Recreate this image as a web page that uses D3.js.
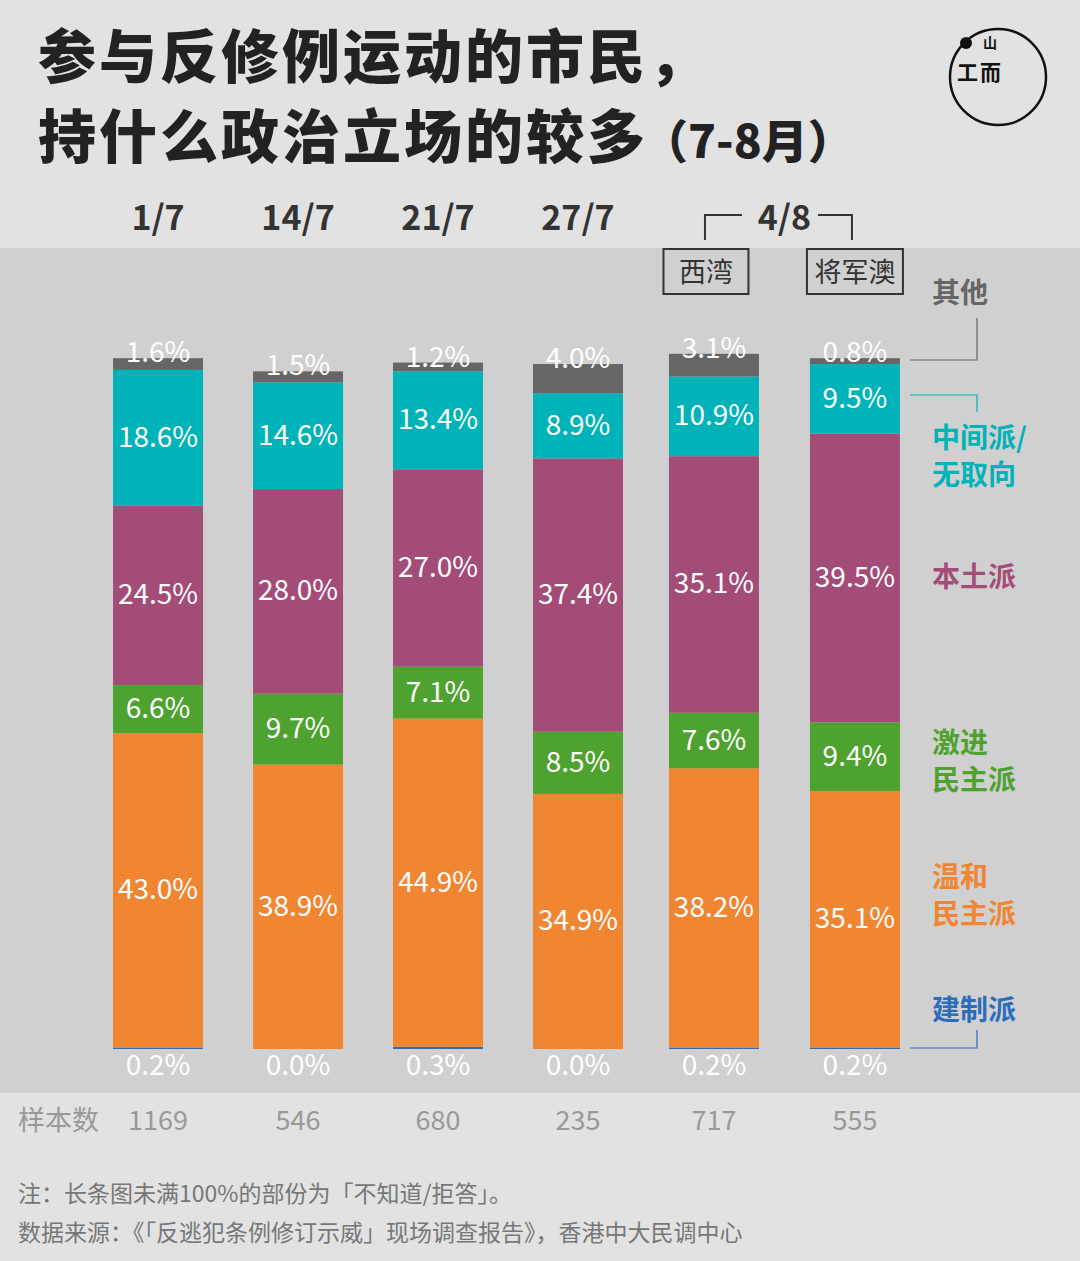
<!DOCTYPE html>
<html><head><meta charset="utf-8">
<script src="https://cdn.jsdelivr.net/npm/d3@7"></script>
<style>body{margin:0;background:#e2e2e2}svg{display:block;font-family:"Noto Sans CJK SC","Noto Sans",sans-serif}</style>
</head><body><svg id="chart"></svg>
<script>
const dates = ["1/7", "14/7", "21/7", "27/7", "4/8a", "4/8b"];
const samples = [1169, 546, 680, 235, 717, 555];
const seriesNames = ["建制派", "温和民主派", "激进民主派", "本土派", "中间派/无取向", "其他"];
const establishment = [0.2, 0.0, 0.3, 0.0, 0.2, 0.2];
const moderate = [43.0, 38.9, 44.9, 34.9, 38.2, 35.1];
const radical = [6.6, 9.7, 7.1, 8.5, 7.6, 9.4];
const localist = [24.5, 28.0, 27.0, 37.4, 35.1, 39.5];
const centrist = [18.6, 14.6, 13.4, 8.9, 10.9, 9.5];
const other = [1.6, 1.5, 1.2, 4.0, 3.1, 0.8];
const colors = ["#2a6ebb", "#f08532", "#4ea22f", "#a44c78", "#00b3b8", "#666666"];

const W = 1080, H = 1261;
const svg = d3.select("#chart").attr("width", W).attr("height", H);
svg.append("rect").attr("width", W).attr("height", H).attr("fill", "#e2e2e2");
svg.append("rect").attr("y", 248).attr("width", W).attr("height", 845).attr("fill", "#d0d0d0");

// title
svg.append("text").attr("x", 38).attr("y", 78).attr("font-size", 58).attr("font-weight", 900).attr("letter-spacing", 3).attr("fill", "#222").text("参与反修例运动的市民，");
const t2 = svg.append("text").attr("x", 38).attr("y", 158).attr("font-size", 58).attr("font-weight", 900).attr("letter-spacing", 3).attr("fill", "#222");
t2.append("tspan").text("持什么政治立场的较多");
t2.append("tspan").attr("font-size", 46).attr("letter-spacing", 0).attr("dx", -6).text("（7-8月）");

// logo
svg.append("circle").attr("cx", 998).attr("cy", 77).attr("r", 48).attr("fill", "none").attr("stroke", "#111").attr("stroke-width", 2.5);
svg.append("circle").attr("cx", 966).attr("cy", 43).attr("r", 6).attr("fill", "#111");
svg.append("text").attr("x", 957).attr("y", 80).attr("font-size", 21).attr("font-weight", 700).attr("fill", "#111").text("工");
svg.append("text").attr("x", 980).attr("y", 80).attr("font-size", 21).attr("font-weight", 700).attr("fill", "#111").text("而");
svg.append("text").attr("x", 983).attr("y", 48).attr("font-size", 14).attr("font-weight", 700).attr("fill", "#111").text("山");

const x = d3.scaleBand().domain(dates).range([88, 928]).paddingInner(0.357).paddingOuter(0.179);
const y = d3.scaleLinear().domain([0, 100]).range([1049, 318]);

const rows = dates.map((d, i) => ({ date: d, s0: establishment[i], s1: moderate[i], s2: radical[i], s3: localist[i], s4: centrist[i], s5: other[i] }));
const keys = ["s0", "s1", "s2", "s3", "s4", "s5"];
const stack = d3.stack().keys(keys)(rows);

const xs = d => x(d) + (d === "4/8a" ? -4 : d === "4/8b" ? -3 : 0);
const cx = d => xs(d) + x.bandwidth() / 2;

stack.forEach((layer, k) => {
  const g = svg.append("g");
  g.selectAll("rect").data(layer).join("rect")
    .attr("x", d => xs(d.data.date)).attr("width", x.bandwidth())
    .attr("y", d => y(d[1])).attr("height", d => y(d[0]) - y(d[1]))
    .attr("fill", colors[k]);
  g.selectAll("text").data(layer).join("text")
    .attr("x", d => cx(d.data.date))
    .attr("y", d => k === 0 ? 1075 : k === 5 ? y(d[1]) + 4 : (y(d[0]) + y(d[1])) / 2 + 9)
    .attr("text-anchor", "middle").attr("font-size", 28).attr("fill", "#fff")
    .text(d => (d[1] - d[0]).toFixed(1) + "%");
});

// date headers
dates.slice(0, 4).forEach(d => svg.append("text").attr("x", cx(d)).attr("y", 230).attr("text-anchor", "middle")
  .attr("font-size", 34).attr("font-weight", 700).attr("fill", "#333").text(d));
const c5 = cx("4/8a"), c6 = cx("4/8b");
svg.append("text").attr("x", (c5 + c6) / 2).attr("y", 230).attr("text-anchor", "middle")
  .attr("font-size", 34).attr("font-weight", 700).attr("fill", "#333").text("4/8");
svg.append("path").attr("d", `M${c5 - 9},240V215H${c5 + 28}M${c6 - 37},215H${c6 - 3}V240`).attr("fill", "none").attr("stroke", "#333").attr("stroke-width", 2);
[["西湾", c5 - 8, 85], ["将军澳", c6, 96]].forEach(([t, x0, w]) => {
  svg.append("rect").attr("x", x0 - w / 2).attr("y", 249).attr("width", w).attr("height", 45).attr("fill", "none").attr("stroke", "#333").attr("stroke-width", 2);
  svg.append("text").attr("x", x0).attr("y", 282).attr("text-anchor", "middle").attr("font-size", 27).attr("fill", "#333").text(t);
});

// legend
const legend = [
  { lines: ["其他"], y: 303, c: "#666", ly: 360, ty: 318 },
  { lines: ["中间派/", "无取向"], y: 448, c: "#00b3b8", ly: 395, ty: 412 },
  { lines: ["本土派"], y: 587, c: "#a44c78" },
  { lines: ["激进", "民主派"], y: 753, c: "#4ea22f" },
  { lines: ["温和", "民主派"], y: 887, c: "#f08532" },
  { lines: ["建制派"], y: 1020, c: "#2a6ebb", ly: 1048, ty: 1030 }
];
legend.forEach(l => {
  l.lines.forEach((s, j) => svg.append("text").attr("x", 932).attr("y", l.y + j * 37)
    .attr("font-size", 28).attr("font-weight", 700).attr("fill", l.c).text(s));
  if (l.ly) svg.append("path").attr("d", `M910,${l.ly}H977V${l.ty}`).attr("fill", "none").attr("stroke", l.c).attr("stroke-width", 1.2);
});

// sample sizes
svg.append("text").attr("x", 18).attr("y", 1130).attr("font-size", 27).attr("fill", "#999").text("样本数");
samples.forEach((n, i) => svg.append("text").attr("x", cx(dates[i])).attr("y", 1130)
  .attr("text-anchor", "middle").attr("font-size", 27).attr("fill", "#999").text(n));

// notes
svg.append("text").attr("x", 18).attr("y", 1202).attr("font-size", 23).attr("fill", "#777").text("注：长条图未满100%的部份为「不知道/拒答」。");
svg.append("text").attr("x", 18).attr("y", 1241).attr("font-size", 23).attr("fill", "#777").text("数据来源：《「反逃犯条例修订示威」现场调查报告》，香港中大民调中心");
</script></body></html>
